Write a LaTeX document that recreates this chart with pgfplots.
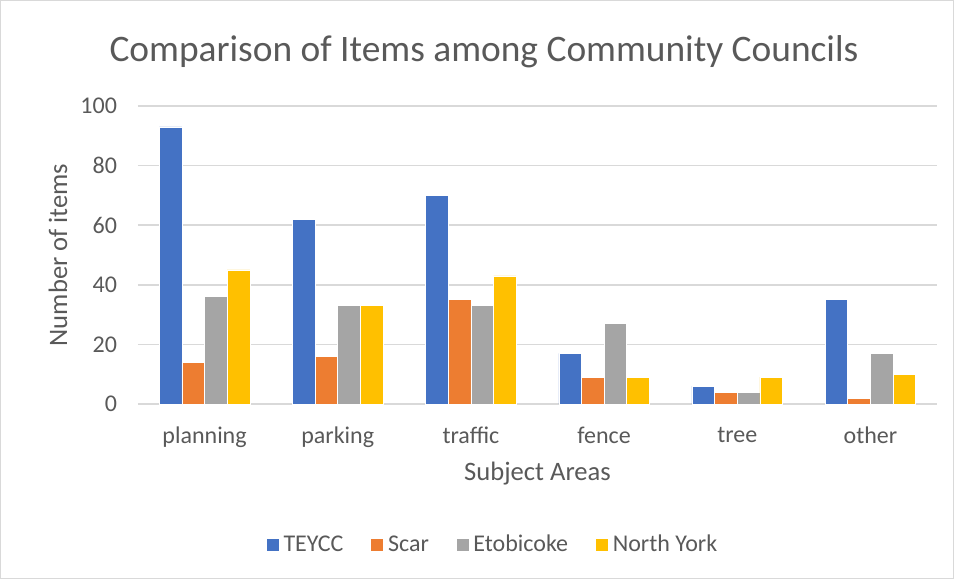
\documentclass[border=0pt]{standalone}
\usepackage{pgfplots}
\pgfplotsset{compat=1.18}
\usepackage{fontspec}
\setmainfont{Carlito}
\definecolor{txt}{HTML}{595959}
\definecolor{gridc}{HTML}{D9D9D9}
\definecolor{cA}{HTML}{4472C4}
\definecolor{cB}{HTML}{ED7D31}
\definecolor{cC}{HTML}{A5A5A5}
\definecolor{cD}{HTML}{FFC000}
\begin{document}
\begin{tikzpicture}
% chart frame
\draw[color=gridc, line width=0.5pt] (-68.75pt,-87.25pt) rectangle (407.75pt,201.75pt);
\begin{axis}[
    at={(0pt,0pt)}, anchor=south west,
    scale only axis, width=399.5pt, height=149pt,
    xmin=-0.5, xmax=5.5, ymin=0, ymax=100,
    xtick={0,...,5},
    xticklabels={planning,parking,traffic,fence,tree,other},
    ytick={0,20,...,100},
    ybar, bar width=0.17,
    axis line style={draw=none},
    major tick length=0pt,
    ymajorgrids, grid style={color=gridc, line width=0.75pt},
    tick label style={font=\fontsize{12}{14}\selectfont, color=txt},
    /pgf/number format/assume math mode=true,
    xticklabel style={yshift=-8pt},
    yticklabel style={xshift=-7pt},
    legend style={at={(0.445,-0.473)}, anchor=center, draw=none, fill=none,
        legend columns=4, font=\fontsize{12}{14}\selectfont, text=txt,
        /tikz/every even column/.append style={column sep=11.5pt}},
    legend image code/.code={\fill[#1] (0pt,-3pt) rectangle (6.5pt,3.5pt);},
]
\addplot[fill=cA, draw=white, line width=0.3pt, bar shift=-0.255]
    coordinates {(0,93) (1,62) (2,70) (3,17) (4,6) (5,35)};
\addplot[fill=cB, draw=white, line width=0.3pt, bar shift=-0.085]
    coordinates {(0,14) (1,16) (2,35) (3,9) (4,4) (5,2)};
\addplot[fill=cC, draw=white, line width=0.3pt, bar shift=0.085]
    coordinates {(0,36) (1,33) (2,33) (3,27) (4,4) (5,17)};
\addplot[fill=cD, draw=white, line width=0.3pt, bar shift=0.255]
    coordinates {(0,45) (1,33) (2,43) (3,9) (4,9) (5,10)};
\legend{TEYCC,Scar,Etobicoke,North York}
\end{axis}
\node[text=txt, font=\fontsize{18.7}{22}\selectfont] at (173pt,176pt) {Comparison of Items among Community Councils};
\node[text=txt, font=\fontsize{13.3}{16}\selectfont, rotate=90] at (-40pt,74.5pt) {Number of items};
\node[text=txt, font=\fontsize{13.3}{16}\selectfont] at (199.75pt,-35pt) {Subject Areas};
\end{tikzpicture}
\end{document}
